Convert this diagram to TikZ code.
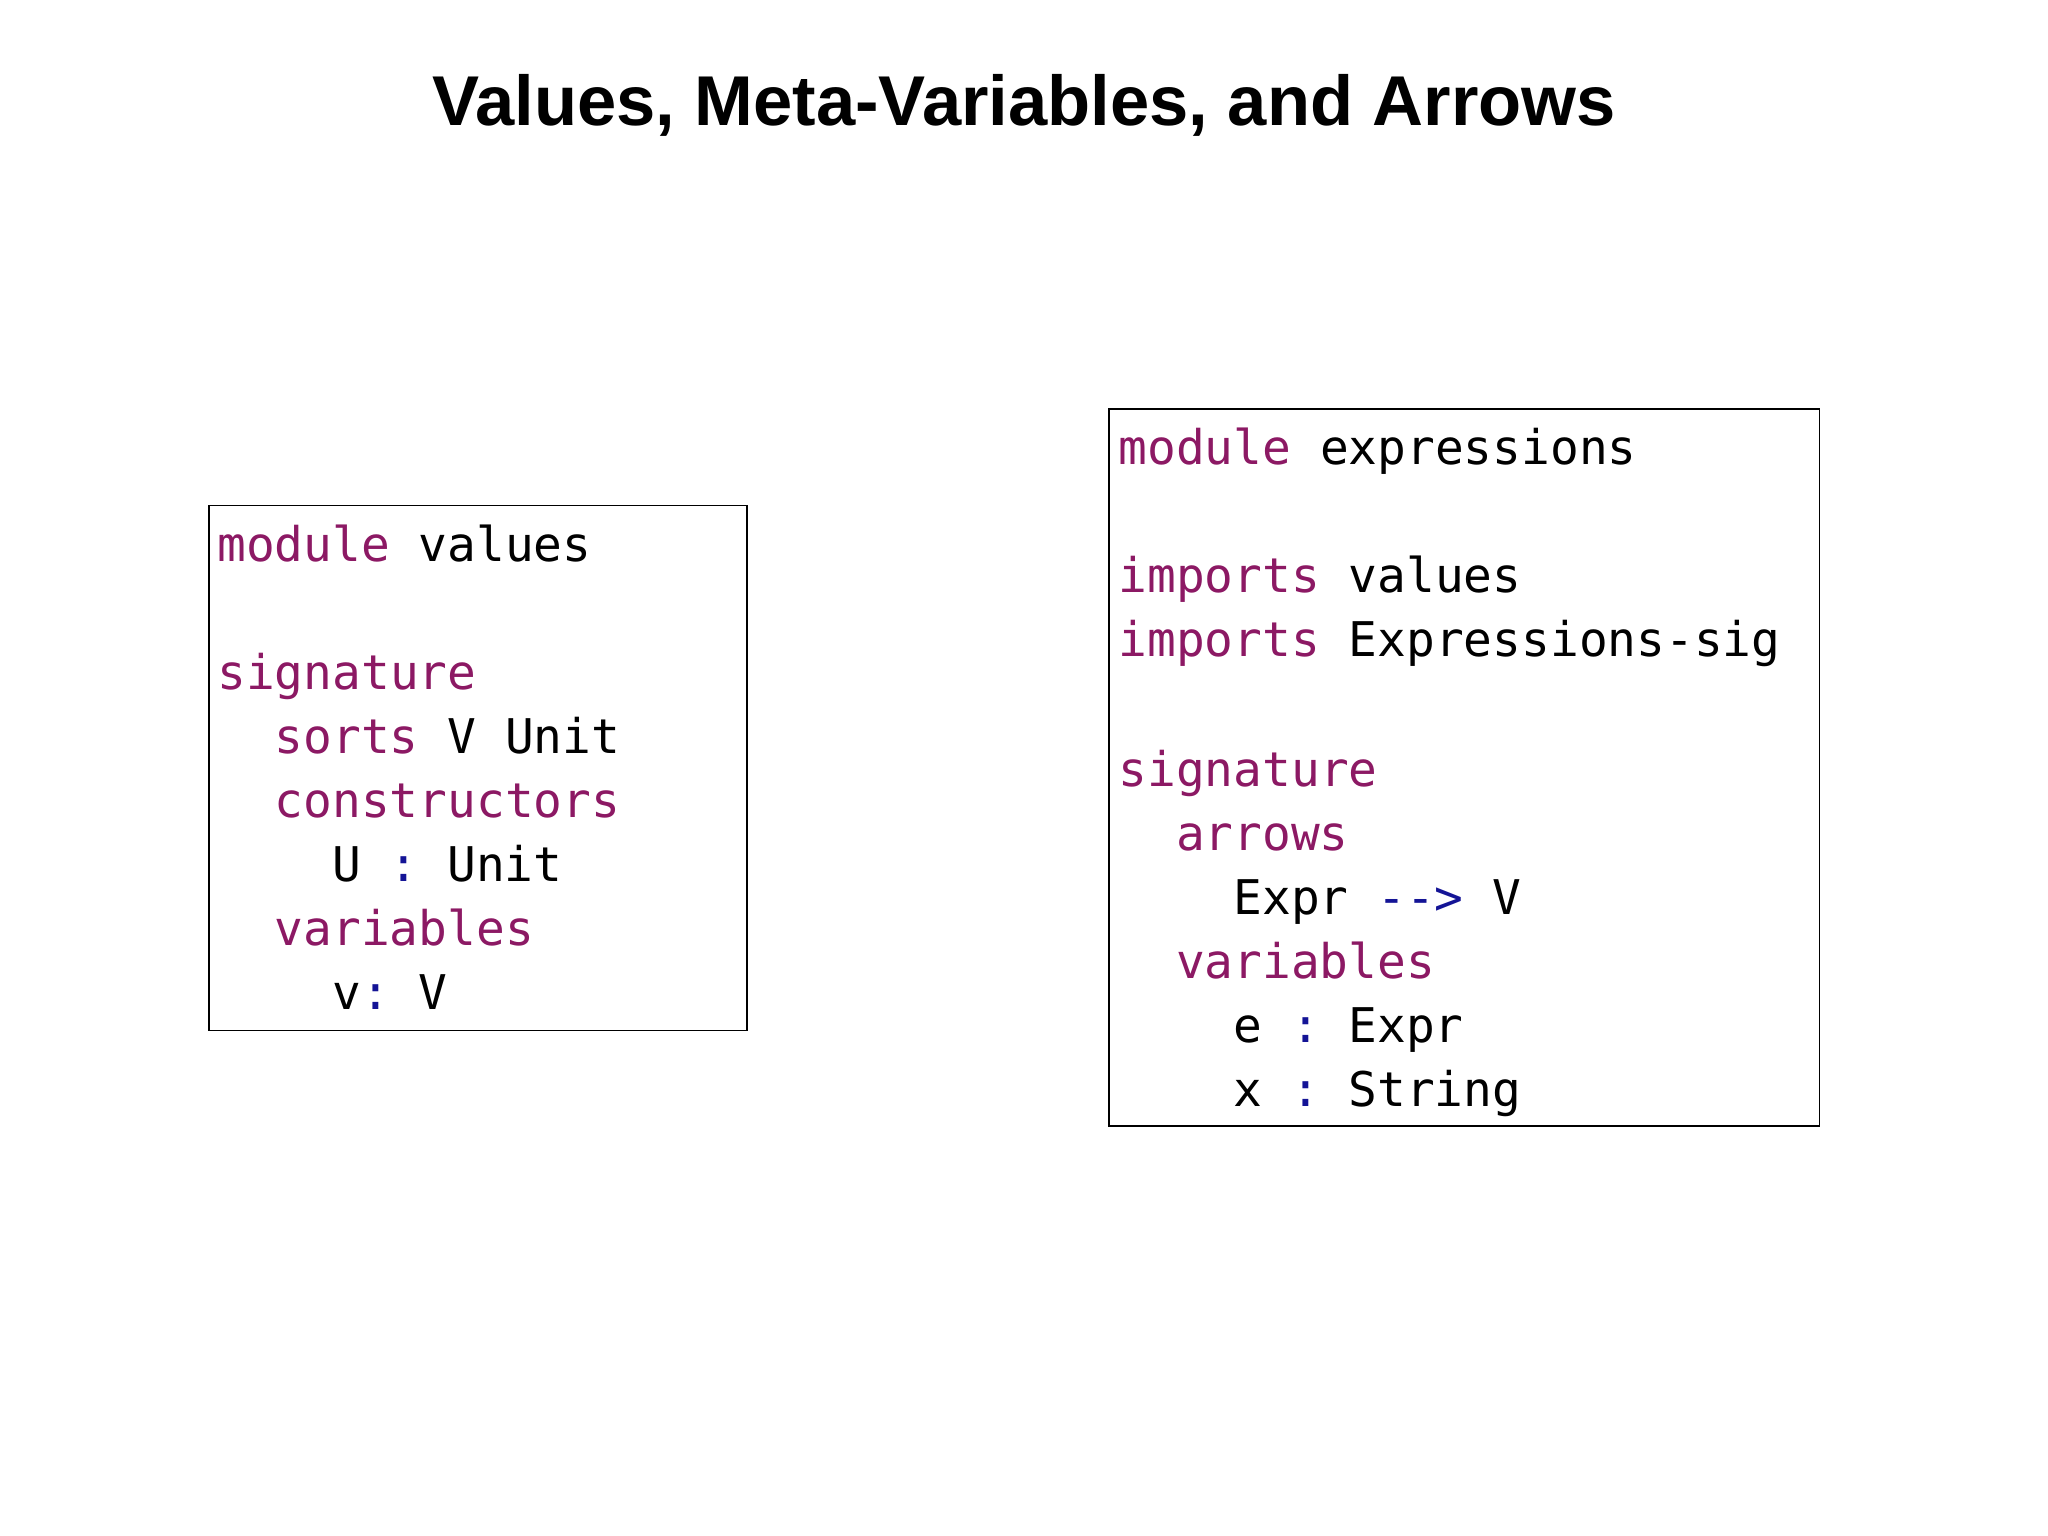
\documentclass[tikz,border=0pt]{standalone}
\usepackage{fontspec}
\setmainfont{Liberation Sans}
\setmonofont{DejaVu Sans Mono}
\definecolor{kw}{RGB}{140,25,100}
\definecolor{op}{RGB}{20,20,150}
\newcommand{\K}[1]{\textcolor{kw}{#1}}
\newcommand{\OP}[1]{\textcolor{op}{#1}}
\begin{document}
\begin{tikzpicture}[x=0.5pt,y=-0.5pt,
  code/.style={anchor=base west,inner sep=0pt,font=\fontsize{18.3}{22}\selectfont\ttfamily},
  box/.style={draw,line width=0.6pt}]
\useasboundingbox (0,0) rectangle (1568,1176);
\node[anchor=base,inner sep=0pt,font=\fontsize{27}{32}\selectfont\bfseries] (title) at (784,96) {Values, Meta-Variables, and Arrows};
\draw[box] (160,387) rectangle (572,789);
\draw[box] (849,313) rectangle (1393,862);
% left
\node[code] (a1) at (166,430) {\K{module} values};
\node[code] (a2) at (166,528) {\K{signature}};
\node[code] (a3) at (210,577) {\K{sorts} V Unit};
\node[code] (a4) at (210,626) {\K{constructors}};
\node[code] (a5) at (254,675) {U \OP{:} Unit};
\node[code] (a6) at (210,724) {\K{variables}};
\node[code] (a7) at (254,773) {v\OP{:} V};
% right
\node[code] (b1) at (856,356) {\K{module} expressions};
\node[code] (b2) at (856,454) {\K{imports} values};
\node[code] (b3) at (856,503) {\K{imports} Expressions-sig};
\node[code] (b4) at (856,602) {\K{signature}};
\node[code] (b5) at (900,651) {\K{arrows}};
\node[code] (b6) at (944,700) {Expr \OP{-{}->} V};
\node[code] (b7) at (900,749) {\K{variables}};
\node[code] (b8) at (944,798) {e \OP{:} Expr};
\node[code] (b9) at (944,847) {x \OP{:} String};
\end{tikzpicture}
\end{document}
